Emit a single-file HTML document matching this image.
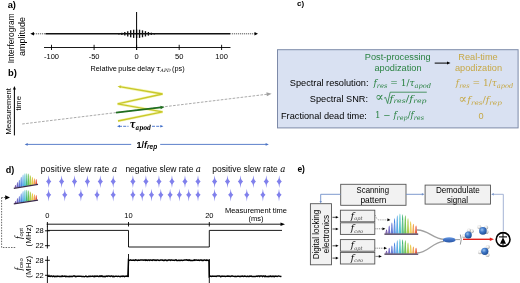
<!DOCTYPE html><html><head><meta charset="utf-8"><style>html,body{margin:0;padding:0;background:#fff;width:520px;height:283px;overflow:hidden;}svg{display:block;}</style></head><body><svg width="520" height="283" viewBox="0 0 520 283"><defs><radialGradient id="ograd" cx="0.38" cy="0.35" r="0.7"><stop offset="0" stop-color="#9cc4f0"/><stop offset="0.45" stop-color="#3f78c8"/><stop offset="1" stop-color="#1d4a90"/></radialGradient><radialGradient id="hgrad" cx="0.4" cy="0.35" r="0.7"><stop offset="0" stop-color="#ffffff"/><stop offset="0.55" stop-color="#e0e0e0"/><stop offset="1" stop-color="#8a8a8a"/></radialGradient><linearGradient id="cgrad" x1="0" y1="0" x2="0" y2="1"><stop offset="0" stop-color="#6a9ae0"/><stop offset="0.5" stop-color="#3d6fc4"/><stop offset="1" stop-color="#2a55a0"/></linearGradient></defs><rect width="520" height="283" fill="#fff"/><text x="7.7" y="8.4" font-size="9.3" font-weight="bold" font-family="Liberation Sans, Arial, sans-serif">a)</text>
<text transform="translate(13.8,38.3) rotate(-90)" text-anchor="middle" font-size="8.3" font-family="Liberation Sans, Arial, sans-serif">Interferogram</text>
<text transform="translate(24.6,36.5) rotate(-90)" text-anchor="middle" font-size="9" font-family="Liberation Sans, Arial, sans-serif">amplitude</text>
<line x1="32" y1="33.8" x2="45.5" y2="33.8" stroke="#555" stroke-width="1" stroke-dasharray="1.2,0.8"/>
<line x1="45.5" y1="33.8" x2="230" y2="33.8" stroke="#111" stroke-width="1.4"/>
<line x1="230" y1="33.8" x2="255" y2="33.8" stroke="#555" stroke-width="1" stroke-dasharray="1.2,0.8"/>
<path d="M30.3 33.8 L34 32.099999999999994 L34 35.5 Z" fill="#000"/>
<path d="M258 33.8 L254.5 32.099999999999994 L254.5 35.5 Z" fill="#000"/>
<line x1="118.90" y1="33.18" x2="118.90" y2="34.42" stroke="#111" stroke-width="1.35"/>
<line x1="121.85" y1="32.68" x2="121.85" y2="34.92" stroke="#111" stroke-width="1.35"/>
<line x1="124.80" y1="31.98" x2="124.80" y2="35.62" stroke="#111" stroke-width="1.35"/>
<line x1="127.75" y1="31.15" x2="127.75" y2="36.45" stroke="#111" stroke-width="1.35"/>
<line x1="130.70" y1="30.33" x2="130.70" y2="37.27" stroke="#111" stroke-width="1.35"/>
<line x1="133.65" y1="29.72" x2="133.65" y2="37.88" stroke="#111" stroke-width="1.35"/>
<line x1="136.60" y1="29.50" x2="136.60" y2="38.10" stroke="#111" stroke-width="1.35"/>
<line x1="139.55" y1="29.72" x2="139.55" y2="37.88" stroke="#111" stroke-width="1.35"/>
<line x1="142.50" y1="30.33" x2="142.50" y2="37.27" stroke="#111" stroke-width="1.35"/>
<line x1="145.45" y1="31.15" x2="145.45" y2="36.45" stroke="#111" stroke-width="1.35"/>
<line x1="148.40" y1="31.98" x2="148.40" y2="35.62" stroke="#111" stroke-width="1.35"/>
<line x1="151.35" y1="32.68" x2="151.35" y2="34.92" stroke="#111" stroke-width="1.35"/>
<line x1="154.30" y1="33.18" x2="154.30" y2="34.42" stroke="#111" stroke-width="1.35"/>
<line x1="136.6" y1="12" x2="136.6" y2="50" stroke="#000" stroke-width="1"/>
<line x1="44" y1="47.5" x2="230.5" y2="47.5" stroke="#000" stroke-width="0.9"/>
<line x1="51.5" y1="44.8" x2="51.5" y2="50" stroke="#000" stroke-width="0.9"/>
<text x="51.5" y="58.7" text-anchor="middle" font-size="7.5" font-family="Liberation Sans, Arial, sans-serif">-100</text>
<line x1="94.1" y1="44.8" x2="94.1" y2="50" stroke="#000" stroke-width="0.9"/>
<text x="94.1" y="58.7" text-anchor="middle" font-size="7.5" font-family="Liberation Sans, Arial, sans-serif">-50</text>
<line x1="136.6" y1="44.8" x2="136.6" y2="50" stroke="#000" stroke-width="0.9"/>
<text x="136.6" y="58.7" text-anchor="middle" font-size="7.5" font-family="Liberation Sans, Arial, sans-serif">0</text>
<line x1="179.2" y1="44.8" x2="179.2" y2="50" stroke="#000" stroke-width="0.9"/>
<text x="179.2" y="58.7" text-anchor="middle" font-size="7.5" font-family="Liberation Sans, Arial, sans-serif">50</text>
<line x1="221.6" y1="44.8" x2="221.6" y2="50" stroke="#000" stroke-width="0.9"/>
<text x="221.6" y="58.7" text-anchor="middle" font-size="7.5" font-family="Liberation Sans, Arial, sans-serif">100</text>
<text x="90.5" y="70.5" font-size="7.3" word-spacing="-0.6" font-family="Liberation Sans, Arial, sans-serif">Relative pulse delay <tspan font-family="DejaVu Serif, serif" font-style="italic" font-size="8.2">τ</tspan><tspan font-size="4.6" font-family="DejaVu Serif, serif" font-style="italic" dy="1">APD</tspan><tspan dy="-1"> (ps)</tspan></text>
<text x="8.1" y="76.3" font-size="9.4" font-weight="bold" font-family="Liberation Sans, Arial, sans-serif">b)</text>
<text transform="translate(11.4,111.3) rotate(-90)" text-anchor="middle" font-size="7.6" font-family="Liberation Sans, Arial, sans-serif">Measurement</text>
<text transform="translate(21.2,103.3) rotate(-90)" text-anchor="middle" font-size="7.6" font-family="Liberation Sans, Arial, sans-serif">time</text>
<line x1="14.4" y1="135.4" x2="14.4" y2="89" stroke="#000" stroke-width="1"/>
<path d="M14.40 86.00 L15.90 89.50 L12.90 89.50 Z" fill="#000"/>
<line x1="22.2" y1="124" x2="267.5" y2="94.2" stroke="#a0a0a0" stroke-width="0.9" stroke-dasharray="2.6,1.4"/>
<path d="M271.60 93.70 L266.88 96.29 L266.40 92.32 Z" fill="#a0a0a0"/>
<path d="M118 121 L162.6 111.8 L117.6 103.9 L162.6 94 L119.5 86.6" fill="none" stroke="#f2f29a" stroke-width="2.8" stroke-linejoin="miter" opacity="0.7"/>
<path d="M118 121 L162.6 111.8 L117.6 103.9 L162.6 94 L119.5 86.6" fill="none" stroke="#c8c82a" stroke-width="1.3" stroke-linejoin="miter"/>
<path d="M117.50 86.30 L121.20 85.41 L120.70 88.37 Z" fill="#c8c82a"/>
<line x1="116" y1="112.6" x2="161" y2="107.4" stroke="#1f6e1f" stroke-width="1.8"/>
<path d="M164.50 107.00 L160.72 109.15 L160.33 105.77 Z" fill="#1f6e1f"/>
<line x1="119" y1="126.3" x2="128.5" y2="126.3" stroke="#3d6cc8" stroke-width="0.9" stroke-dasharray="3,1.2"/>
<line x1="152" y1="126.3" x2="161" y2="126.3" stroke="#3d6cc8" stroke-width="0.9" stroke-dasharray="3,1.2"/>
<path d="M117.00 126.30 L120.00 125.00 L120.00 127.60 Z" fill="#3d6cc8"/>
<path d="M163.40 126.30 L160.40 127.60 L160.40 125.00 Z" fill="#3d6cc8"/>
<text x="129.8" y="128.4" font-size="10.5" font-style="italic" font-weight="bold" font-family="DejaVu Serif, serif" textLength="21.3" lengthAdjust="spacingAndGlyphs">τ<tspan font-size="7" dy="1.9">apod</tspan></text>
<line x1="27" y1="144.4" x2="131.2" y2="144.4" stroke="#4a72c4" stroke-width="0.9"/>
<path d="M24.70 144.40 L27.70 143.10 L27.70 145.70 Z" fill="#4a72c4"/>
<line x1="160.2" y1="144.4" x2="266" y2="144.4" stroke="#4a72c4" stroke-width="0.9"/>
<path d="M268.80 144.40 L265.60 145.80 L265.60 143.00 Z" fill="#4a72c4"/>
<text x="136.5" y="147.6" font-size="9" font-weight="bold" font-family="Liberation Sans, Arial, sans-serif">1/<tspan font-style="italic">f</tspan><tspan font-size="6.5" dy="1.6" font-style="italic">rep</tspan></text>
<text x="297" y="6.1" font-size="8" font-weight="bold" font-family="Liberation Sans, Arial, sans-serif">c)</text>
<rect x="277.5" y="49.7" width="240.6" height="78.2" fill="#d9e1f2" stroke="#7d8aa8" stroke-width="1"/>
<text x="397.8" y="60.3" text-anchor="middle" font-size="9.2" fill="#2a8242" font-family="Liberation Sans, Arial, sans-serif">Post-processing</text>
<text x="398" y="71" text-anchor="middle" font-size="9.2" fill="#2a8242" font-family="Liberation Sans, Arial, sans-serif">apodization</text>
<text x="478" y="60.3" text-anchor="middle" font-size="9.2" fill="#c6a846" font-family="Liberation Sans, Arial, sans-serif">Real-time</text>
<text x="478.5" y="71" text-anchor="middle" font-size="9.2" fill="#c6a846" font-family="Liberation Sans, Arial, sans-serif">apodization</text>
<line x1="434.7" y1="63.1" x2="447.5" y2="63.1" stroke="#000" stroke-width="1"/>
<path d="M450.50 63.10 L447.00 64.60 L447.00 61.60 Z" fill="#000"/>
<text x="368.5" y="85.8" text-anchor="end" font-size="9.2" font-family="Liberation Sans, Arial, sans-serif">Spectral resolution:</text>
<text x="368" y="101.5" text-anchor="end" font-size="9.2" font-family="Liberation Sans, Arial, sans-serif">Spectral SNR:</text>
<text x="366.8" y="118.5" text-anchor="end" font-size="9.2" font-family="Liberation Sans, Arial, sans-serif">Fractional dead time:</text>
<text x="373.5" y="86.2" font-size="8.8" fill="#2a8242" font-family="DejaVu Serif, serif" textLength="57.5" lengthAdjust="spacingAndGlyphs"><tspan font-style="italic">f</tspan><tspan font-style="italic" font-size="6.5" dy="1.6">res</tspan><tspan dy="-1.6"> = 1/</tspan><tspan font-style="italic">τ</tspan><tspan font-style="italic" font-size="6.5" dy="1.6">apod</tspan><tspan dy="-1.6"></tspan></text>
<text x="455.8" y="86.2" font-size="8.8" fill="#c6a846" font-family="DejaVu Serif, serif" textLength="57.5" lengthAdjust="spacingAndGlyphs"><tspan font-style="italic">f</tspan><tspan font-style="italic" font-size="6.5" dy="1.6">res</tspan><tspan dy="-1.6"> = 1/</tspan><tspan font-style="italic">τ</tspan><tspan font-style="italic" font-size="6.5" dy="1.6">apod</tspan><tspan dy="-1.6"></tspan></text>
<text x="375.2" y="100.6" font-size="12.5" fill="#2a8242" font-family="DejaVu Serif, serif">∝</text>
<path d="M384 98.2 L385.6 97.4 L387.6 103.5 L390.2 92.2 L426.8 92.2" fill="none" stroke="#2a8242" stroke-width="0.8"/>
<text x="389.5" y="101.8" font-size="8.8" fill="#2a8242" font-family="DejaVu Serif, serif" textLength="37" lengthAdjust="spacingAndGlyphs"><tspan font-style="italic">f</tspan><tspan font-style="italic" font-size="6.5" dy="1.6">res</tspan><tspan dy="-1.6">/</tspan><tspan font-style="italic">f</tspan><tspan font-style="italic" font-size="6.5" dy="1.6">rep</tspan><tspan dy="-1.6"></tspan></text>
<text x="458.5" y="102.8" font-size="12.5" fill="#c6a846" font-family="DejaVu Serif, serif">∝</text>
<text x="467.3" y="103" font-size="8.8" fill="#c6a846" font-family="DejaVu Serif, serif" textLength="34.5" lengthAdjust="spacingAndGlyphs"><tspan font-style="italic">f</tspan><tspan font-style="italic" font-size="6.5" dy="1.6">res</tspan><tspan dy="-1.6">/</tspan><tspan font-style="italic">f</tspan><tspan font-style="italic" font-size="6.5" dy="1.6">rep</tspan><tspan dy="-1.6"></tspan></text>
<text x="375" y="118.4" font-size="8.8" fill="#2a8242" font-family="DejaVu Serif, serif" textLength="49" lengthAdjust="spacingAndGlyphs">1 − <tspan font-style="italic">f</tspan><tspan font-style="italic" font-size="6.5" dy="1.6">rep</tspan><tspan dy="-1.6">/</tspan><tspan font-style="italic">f</tspan><tspan font-style="italic" font-size="6.5" dy="1.6">res</tspan><tspan dy="-1.6"></tspan></text>
<text x="481" y="118.5" text-anchor="middle" font-size="9.2" fill="#c6a846" font-family="Liberation Sans, Arial, sans-serif">0</text>
<text x="5.7" y="173.2" font-size="9" font-weight="bold" font-family="Liberation Sans, Arial, sans-serif">d)</text>
<path d="M14.60 187.64 C14.98 186.36 15.07 185.08 15.54 185.08 C16.01 185.08 16.11 186.36 16.48 187.64 Z" fill="#6a4a9e"/><line x1="15.40" y1="187.14" x2="15.40" y2="185.85" stroke="#fff" stroke-opacity="0.3" stroke-width="0.38"/><path d="M16.48 187.32 C16.86 184.70 16.95 182.07 17.43 182.07 C17.90 182.07 17.99 184.70 18.37 187.32 Z" fill="#6458c0"/><line x1="17.28" y1="186.82" x2="17.28" y2="183.65" stroke="#fff" stroke-opacity="0.3" stroke-width="0.38"/><path d="M18.37 187.00 C18.74 183.42 18.84 179.83 19.31 179.83 C19.78 179.83 19.87 183.42 20.25 187.00 Z" fill="#5068d0"/><line x1="19.17" y1="186.50" x2="19.17" y2="181.98" stroke="#fff" stroke-opacity="0.3" stroke-width="0.38"/><path d="M20.25 186.68 C20.63 181.75 20.72 176.82 21.19 176.82 C21.66 176.82 21.76 181.75 22.13 186.68 Z" fill="#4280e0"/><line x1="21.05" y1="186.18" x2="21.05" y2="179.78" stroke="#fff" stroke-opacity="0.3" stroke-width="0.38"/><path d="M22.13 186.36 C22.51 180.47 22.60 174.58 23.07 174.58 C23.55 174.58 23.64 180.47 24.02 186.36 Z" fill="#4aa2e4"/><line x1="22.93" y1="185.86" x2="22.93" y2="178.12" stroke="#fff" stroke-opacity="0.3" stroke-width="0.38"/><path d="M24.02 186.04 C24.39 179.64 24.49 173.24 24.96 173.24 C25.43 173.24 25.52 179.64 25.90 186.04 Z" fill="#40bcc8"/><line x1="24.82" y1="185.54" x2="24.82" y2="177.08" stroke="#fff" stroke-opacity="0.3" stroke-width="0.38"/><path d="M25.90 185.72 C26.28 179.51 26.37 173.30 26.84 173.30 C27.31 173.30 27.41 179.51 27.78 185.72 Z" fill="#38b070"/><line x1="26.70" y1="185.22" x2="26.70" y2="177.03" stroke="#fff" stroke-opacity="0.3" stroke-width="0.38"/><path d="M27.78 185.40 C28.16 179.51 28.25 173.62 28.73 173.62 C29.20 173.62 29.29 179.51 29.67 185.40 Z" fill="#5cbc40"/><line x1="28.58" y1="184.90" x2="28.58" y2="177.16" stroke="#fff" stroke-opacity="0.3" stroke-width="0.38"/><path d="M29.67 185.08 C30.04 180.15 30.14 175.22 30.61 175.22 C31.08 175.22 31.17 180.15 31.55 185.08 Z" fill="#a8c83c"/><line x1="30.47" y1="184.58" x2="30.47" y2="178.18" stroke="#fff" stroke-opacity="0.3" stroke-width="0.38"/><path d="M31.55 184.76 C31.93 180.79 32.02 176.82 32.49 176.82 C32.96 176.82 33.06 180.79 33.43 184.76 Z" fill="#e6c438"/><line x1="32.35" y1="184.26" x2="32.35" y2="179.20" stroke="#fff" stroke-opacity="0.3" stroke-width="0.38"/><path d="M33.43 184.44 C33.81 181.30 33.90 178.17 34.38 178.17 C34.85 178.17 34.94 181.30 35.32 184.44 Z" fill="#f29838"/><line x1="34.23" y1="183.94" x2="34.23" y2="180.05" stroke="#fff" stroke-opacity="0.3" stroke-width="0.38"/><path d="M35.32 184.12 C35.69 181.56 35.79 179.00 36.26 179.00 C36.73 179.00 36.82 181.56 37.20 184.12 Z" fill="#e04a30"/><line x1="36.12" y1="183.62" x2="36.12" y2="180.53" stroke="#fff" stroke-opacity="0.3" stroke-width="0.38"/><path d="M13.80 188.30 L38.00 184.46" stroke="#3a2a4a" stroke-width="1.3"/>
<path d="M14.60 203.24 C14.98 202.06 15.07 200.88 15.54 200.88 C16.01 200.88 16.11 202.06 16.48 203.24 Z" fill="#6a4a9e"/><line x1="15.40" y1="202.74" x2="15.40" y2="201.59" stroke="#fff" stroke-opacity="0.3" stroke-width="0.38"/><path d="M16.48 202.92 C16.86 200.50 16.95 198.08 17.43 198.08 C17.90 198.08 17.99 200.50 18.37 202.92 Z" fill="#6458c0"/><line x1="17.28" y1="202.42" x2="17.28" y2="199.53" stroke="#fff" stroke-opacity="0.3" stroke-width="0.38"/><path d="M18.37 202.60 C18.74 199.30 18.84 195.99 19.31 195.99 C19.78 195.99 19.87 199.30 20.25 202.60 Z" fill="#5068d0"/><line x1="19.17" y1="202.10" x2="19.17" y2="197.97" stroke="#fff" stroke-opacity="0.3" stroke-width="0.38"/><path d="M20.25 202.28 C20.63 197.74 20.72 193.19 21.19 193.19 C21.66 193.19 21.76 197.74 22.13 202.28 Z" fill="#4280e0"/><line x1="21.05" y1="201.78" x2="21.05" y2="195.92" stroke="#fff" stroke-opacity="0.3" stroke-width="0.38"/><path d="M22.13 201.96 C22.51 196.53 22.60 191.10 23.07 191.10 C23.55 191.10 23.64 196.53 24.02 201.96 Z" fill="#4aa2e4"/><line x1="22.93" y1="201.46" x2="22.93" y2="194.36" stroke="#fff" stroke-opacity="0.3" stroke-width="0.38"/><path d="M24.02 201.64 C24.39 195.74 24.49 189.84 24.96 189.84 C25.43 189.84 25.52 195.74 25.90 201.64 Z" fill="#40bcc8"/><line x1="24.82" y1="201.14" x2="24.82" y2="193.38" stroke="#fff" stroke-opacity="0.3" stroke-width="0.38"/><path d="M25.90 201.32 C26.28 195.60 26.37 189.87 26.84 189.87 C27.31 189.87 27.41 195.60 27.78 201.32 Z" fill="#38b070"/><line x1="26.70" y1="200.82" x2="26.70" y2="193.31" stroke="#fff" stroke-opacity="0.3" stroke-width="0.38"/><path d="M27.78 201.00 C28.16 195.57 28.25 190.14 28.73 190.14 C29.20 190.14 29.29 195.57 29.67 201.00 Z" fill="#5cbc40"/><line x1="28.58" y1="200.50" x2="28.58" y2="193.40" stroke="#fff" stroke-opacity="0.3" stroke-width="0.38"/><path d="M29.67 200.68 C30.04 196.14 30.14 191.59 30.61 191.59 C31.08 191.59 31.17 196.14 31.55 200.68 Z" fill="#a8c83c"/><line x1="30.47" y1="200.18" x2="30.47" y2="194.32" stroke="#fff" stroke-opacity="0.3" stroke-width="0.38"/><path d="M31.55 200.36 C31.93 196.70 32.02 193.04 32.49 193.04 C32.96 193.04 33.06 196.70 33.43 200.36 Z" fill="#e6c438"/><line x1="32.35" y1="199.86" x2="32.35" y2="195.24" stroke="#fff" stroke-opacity="0.3" stroke-width="0.38"/><path d="M33.43 200.04 C33.81 197.15 33.90 194.26 34.38 194.26 C34.85 194.26 34.94 197.15 35.32 200.04 Z" fill="#f29838"/><line x1="34.23" y1="199.54" x2="34.23" y2="195.99" stroke="#fff" stroke-opacity="0.3" stroke-width="0.38"/><path d="M35.32 199.72 C35.69 197.36 35.79 195.00 36.26 195.00 C36.73 195.00 36.82 197.36 37.20 199.72 Z" fill="#e04a30"/><line x1="36.12" y1="199.22" x2="36.12" y2="196.41" stroke="#fff" stroke-opacity="0.3" stroke-width="0.38"/><path d="M13.80 203.90 L38.00 200.06" stroke="#3a2a4a" stroke-width="1.3"/>
<path d="M1.6 197.5 L1.6 247.5 L15.5 247.5" fill="none" stroke="#444" stroke-width="0.8" stroke-dasharray="1.5,1.2"/>
<path d="M10 197.5 L5.2 195.2 L5.2 199.8 Z" fill="#000"/>
<line x1="1.6" y1="197.5" x2="5" y2="197.5" stroke="#444" stroke-width="0.8" stroke-dasharray="1.2,1"/>
<text x="40.7" y="171.7" font-size="8.5" font-family="Liberation Sans, Arial, sans-serif" textLength="76.5">positive slew rate <tspan font-style="italic" font-family="DejaVu Serif, serif" font-size="8.6">a</tspan></text>
<text x="125.4" y="171.7" font-size="8.5" font-family="Liberation Sans, Arial, sans-serif" textLength="75.4">negative slew rate <tspan font-style="italic" font-family="DejaVu Serif, serif" font-size="8.6">a</tspan></text>
<text x="212.2" y="171.7" font-size="8.5" font-family="Liberation Sans, Arial, sans-serif" textLength="73.2">positive slew rate <tspan font-style="italic" font-family="DejaVu Serif, serif" font-size="8.6">a</tspan></text>
<path d="M48.70 175.30 L49.20 178.60 Q49.60 180.20 51.30 181.40 Q49.60 182.80 49.20 184.40 L48.70 188.10 L48.20 184.40 Q47.80 182.80 46.10 181.40 Q47.80 180.20 48.20 178.60 Z" fill="#8080ec"/>
<path d="M61.60 175.30 L62.10 178.60 Q62.50 180.20 64.20 181.40 Q62.50 182.80 62.10 184.40 L61.60 188.10 L61.10 184.40 Q60.70 182.80 59.00 181.40 Q60.70 180.20 61.10 178.60 Z" fill="#8080ec"/>
<path d="M74.50 175.30 L75.00 178.60 Q75.40 180.20 77.10 181.40 Q75.40 182.80 75.00 184.40 L74.50 188.10 L74.00 184.40 Q73.60 182.80 71.90 181.40 Q73.60 180.20 74.00 178.60 Z" fill="#8080ec"/>
<path d="M87.40 175.30 L87.90 178.60 Q88.30 180.20 90.00 181.40 Q88.30 182.80 87.90 184.40 L87.40 188.10 L86.90 184.40 Q86.50 182.80 84.80 181.40 Q86.50 180.20 86.90 178.60 Z" fill="#8080ec"/>
<path d="M100.30 175.30 L100.80 178.60 Q101.20 180.20 102.90 181.40 Q101.20 182.80 100.80 184.40 L100.30 188.10 L99.80 184.40 Q99.40 182.80 97.70 181.40 Q99.40 180.20 99.80 178.60 Z" fill="#8080ec"/>
<path d="M113.20 175.30 L113.70 178.60 Q114.10 180.20 115.80 181.40 Q114.10 182.80 113.70 184.40 L113.20 188.10 L112.70 184.40 Q112.30 182.80 110.60 181.40 Q112.30 180.20 112.70 178.60 Z" fill="#8080ec"/>
<path d="M48.60 188.70 L49.10 192.00 Q49.50 193.60 51.20 194.80 Q49.50 196.20 49.10 197.80 L48.60 201.50 L48.10 197.80 Q47.70 196.20 46.00 194.80 Q47.70 193.60 48.10 192.00 Z" fill="#8080ec"/>
<path d="M64.75 188.70 L65.25 192.00 Q65.65 193.60 67.35 194.80 Q65.65 196.20 65.25 197.80 L64.75 201.50 L64.25 197.80 Q63.85 196.20 62.15 194.80 Q63.85 193.60 64.25 192.00 Z" fill="#8080ec"/>
<path d="M80.90 188.70 L81.40 192.00 Q81.80 193.60 83.50 194.80 Q81.80 196.20 81.40 197.80 L80.90 201.50 L80.40 197.80 Q80.00 196.20 78.30 194.80 Q80.00 193.60 80.40 192.00 Z" fill="#8080ec"/>
<path d="M97.05 188.70 L97.55 192.00 Q97.95 193.60 99.65 194.80 Q97.95 196.20 97.55 197.80 L97.05 201.50 L96.55 197.80 Q96.15 196.20 94.45 194.80 Q96.15 193.60 96.55 192.00 Z" fill="#8080ec"/>
<path d="M113.20 188.70 L113.70 192.00 Q114.10 193.60 115.80 194.80 Q114.10 196.20 113.70 197.80 L113.20 201.50 L112.70 197.80 Q112.30 196.20 110.60 194.80 Q112.30 193.60 112.70 192.00 Z" fill="#8080ec"/>
<path d="M132.90 175.30 L133.40 178.60 Q133.80 180.20 135.50 181.40 Q133.80 182.80 133.40 184.40 L132.90 188.10 L132.40 184.40 Q132.00 182.80 130.30 181.40 Q132.00 180.20 132.40 178.60 Z" fill="#8080ec"/>
<path d="M145.92 175.30 L146.42 178.60 Q146.82 180.20 148.52 181.40 Q146.82 182.80 146.42 184.40 L145.92 188.10 L145.42 184.40 Q145.02 182.80 143.32 181.40 Q145.02 180.20 145.42 178.60 Z" fill="#8080ec"/>
<path d="M158.94 175.30 L159.44 178.60 Q159.84 180.20 161.54 181.40 Q159.84 182.80 159.44 184.40 L158.94 188.10 L158.44 184.40 Q158.04 182.80 156.34 181.40 Q158.04 180.20 158.44 178.60 Z" fill="#8080ec"/>
<path d="M171.96 175.30 L172.46 178.60 Q172.86 180.20 174.56 181.40 Q172.86 182.80 172.46 184.40 L171.96 188.10 L171.46 184.40 Q171.06 182.80 169.36 181.40 Q171.06 180.20 171.46 178.60 Z" fill="#8080ec"/>
<path d="M184.98 175.30 L185.48 178.60 Q185.88 180.20 187.58 181.40 Q185.88 182.80 185.48 184.40 L184.98 188.10 L184.48 184.40 Q184.08 182.80 182.38 181.40 Q184.08 180.20 184.48 178.60 Z" fill="#8080ec"/>
<path d="M198.00 175.30 L198.50 178.60 Q198.90 180.20 200.60 181.40 Q198.90 182.80 198.50 184.40 L198.00 188.10 L197.50 184.40 Q197.10 182.80 195.40 181.40 Q197.10 180.20 197.50 178.60 Z" fill="#8080ec"/>
<path d="M132.90 188.70 L133.40 192.00 Q133.80 193.60 135.50 194.80 Q133.80 196.20 133.40 197.80 L132.90 201.50 L132.40 197.80 Q132.00 196.20 130.30 194.80 Q132.00 193.60 132.40 192.00 Z" fill="#8080ec"/>
<path d="M142.20 188.70 L142.70 192.00 Q143.10 193.60 144.80 194.80 Q143.10 196.20 142.70 197.80 L142.20 201.50 L141.70 197.80 Q141.30 196.20 139.60 194.80 Q141.30 193.60 141.70 192.00 Z" fill="#8080ec"/>
<path d="M151.50 188.70 L152.00 192.00 Q152.40 193.60 154.10 194.80 Q152.40 196.20 152.00 197.80 L151.50 201.50 L151.00 197.80 Q150.60 196.20 148.90 194.80 Q150.60 193.60 151.00 192.00 Z" fill="#8080ec"/>
<path d="M160.80 188.70 L161.30 192.00 Q161.70 193.60 163.40 194.80 Q161.70 196.20 161.30 197.80 L160.80 201.50 L160.30 197.80 Q159.90 196.20 158.20 194.80 Q159.90 193.60 160.30 192.00 Z" fill="#8080ec"/>
<path d="M170.10 188.70 L170.60 192.00 Q171.00 193.60 172.70 194.80 Q171.00 196.20 170.60 197.80 L170.10 201.50 L169.60 197.80 Q169.20 196.20 167.50 194.80 Q169.20 193.60 169.60 192.00 Z" fill="#8080ec"/>
<path d="M179.40 188.70 L179.90 192.00 Q180.30 193.60 182.00 194.80 Q180.30 196.20 179.90 197.80 L179.40 201.50 L178.90 197.80 Q178.50 196.20 176.80 194.80 Q178.50 193.60 178.90 192.00 Z" fill="#8080ec"/>
<path d="M188.70 188.70 L189.20 192.00 Q189.60 193.60 191.30 194.80 Q189.60 196.20 189.20 197.80 L188.70 201.50 L188.20 197.80 Q187.80 196.20 186.10 194.80 Q187.80 193.60 188.20 192.00 Z" fill="#8080ec"/>
<path d="M198.00 188.70 L198.50 192.00 Q198.90 193.60 200.60 194.80 Q198.90 196.20 198.50 197.80 L198.00 201.50 L197.50 197.80 Q197.10 196.20 195.40 194.80 Q197.10 193.60 197.50 192.00 Z" fill="#8080ec"/>
<path d="M214.60 175.30 L215.10 178.60 Q215.50 180.20 217.20 181.40 Q215.50 182.80 215.10 184.40 L214.60 188.10 L214.10 184.40 Q213.70 182.80 212.00 181.40 Q213.70 180.20 214.10 178.60 Z" fill="#8080ec"/>
<path d="M227.52 175.30 L228.02 178.60 Q228.42 180.20 230.12 181.40 Q228.42 182.80 228.02 184.40 L227.52 188.10 L227.02 184.40 Q226.62 182.80 224.92 181.40 Q226.62 180.20 227.02 178.60 Z" fill="#8080ec"/>
<path d="M240.44 175.30 L240.94 178.60 Q241.34 180.20 243.04 181.40 Q241.34 182.80 240.94 184.40 L240.44 188.10 L239.94 184.40 Q239.54 182.80 237.84 181.40 Q239.54 180.20 239.94 178.60 Z" fill="#8080ec"/>
<path d="M253.36 175.30 L253.86 178.60 Q254.26 180.20 255.96 181.40 Q254.26 182.80 253.86 184.40 L253.36 188.10 L252.86 184.40 Q252.46 182.80 250.76 181.40 Q252.46 180.20 252.86 178.60 Z" fill="#8080ec"/>
<path d="M266.28 175.30 L266.78 178.60 Q267.18 180.20 268.88 181.40 Q267.18 182.80 266.78 184.40 L266.28 188.10 L265.78 184.40 Q265.38 182.80 263.68 181.40 Q265.38 180.20 265.78 178.60 Z" fill="#8080ec"/>
<path d="M279.20 175.30 L279.70 178.60 Q280.10 180.20 281.80 181.40 Q280.10 182.80 279.70 184.40 L279.20 188.10 L278.70 184.40 Q278.30 182.80 276.60 181.40 Q278.30 180.20 278.70 178.60 Z" fill="#8080ec"/>
<path d="M214.60 188.70 L215.10 192.00 Q215.50 193.60 217.20 194.80 Q215.50 196.20 215.10 197.80 L214.60 201.50 L214.10 197.80 Q213.70 196.20 212.00 194.80 Q213.70 193.60 214.10 192.00 Z" fill="#8080ec"/>
<path d="M230.70 188.70 L231.20 192.00 Q231.60 193.60 233.30 194.80 Q231.60 196.20 231.20 197.80 L230.70 201.50 L230.20 197.80 Q229.80 196.20 228.10 194.80 Q229.80 193.60 230.20 192.00 Z" fill="#8080ec"/>
<path d="M246.80 188.70 L247.30 192.00 Q247.70 193.60 249.40 194.80 Q247.70 196.20 247.30 197.80 L246.80 201.50 L246.30 197.80 Q245.90 196.20 244.20 194.80 Q245.90 193.60 246.30 192.00 Z" fill="#8080ec"/>
<path d="M262.90 188.70 L263.40 192.00 Q263.80 193.60 265.50 194.80 Q263.80 196.20 263.40 197.80 L262.90 201.50 L262.40 197.80 Q262.00 196.20 260.30 194.80 Q262.00 193.60 262.40 192.00 Z" fill="#8080ec"/>
<path d="M279.00 188.70 L279.50 192.00 Q279.90 193.60 281.60 194.80 Q279.90 196.20 279.50 197.80 L279.00 201.50 L278.50 197.80 Q278.10 196.20 276.40 194.80 Q278.10 193.60 278.50 192.00 Z" fill="#8080ec"/>
<line x1="46.7" y1="224.2" x2="281" y2="224.2" stroke="#000" stroke-width="0.9"/>
<path d="M285.00 224.20 L280.50 226.00 L280.50 222.40 Z" fill="#000"/>
<line x1="47.4" y1="222" x2="47.4" y2="226.5" stroke="#000" stroke-width="0.9"/>
<text x="47.4" y="217.5" text-anchor="middle" font-size="7.5" font-family="Liberation Sans, Arial, sans-serif">0</text>
<line x1="128.5" y1="222" x2="128.5" y2="226.5" stroke="#000" stroke-width="0.9"/>
<text x="128.5" y="217.5" text-anchor="middle" font-size="7.5" font-family="Liberation Sans, Arial, sans-serif">10</text>
<line x1="209.3" y1="222" x2="209.3" y2="226.5" stroke="#000" stroke-width="0.9"/>
<text x="209.3" y="217.5" text-anchor="middle" font-size="7.5" font-family="Liberation Sans, Arial, sans-serif">20</text>
<text x="256" y="213.3" text-anchor="middle" font-size="7.5" font-family="Liberation Sans, Arial, sans-serif">Measurement time</text>
<text x="256" y="221" text-anchor="middle" font-size="7.5" font-family="Liberation Sans, Arial, sans-serif">(ms)</text>
<line x1="47.4" y1="226" x2="47.4" y2="248.5" stroke="#000" stroke-width="0.9"/>
<line x1="47.4" y1="256.2" x2="47.4" y2="283" stroke="#000" stroke-width="0.9"/>
<line x1="45" y1="230.8" x2="49.8" y2="230.8" stroke="#000" stroke-width="0.9"/>
<text x="43.8" y="233.4" text-anchor="end" font-size="7.5" font-family="Liberation Sans, Arial, sans-serif">28</text>
<line x1="45" y1="245.7" x2="49.8" y2="245.7" stroke="#000" stroke-width="0.9"/>
<text x="43.8" y="248.29999999999998" text-anchor="end" font-size="7.5" font-family="Liberation Sans, Arial, sans-serif">22</text>
<line x1="45" y1="260.3" x2="49.8" y2="260.3" stroke="#000" stroke-width="0.9"/>
<text x="43.8" y="262.90000000000003" text-anchor="end" font-size="7.5" font-family="Liberation Sans, Arial, sans-serif">28</text>
<line x1="45" y1="275.3" x2="49.8" y2="275.3" stroke="#000" stroke-width="0.9"/>
<text x="43.8" y="277.90000000000003" text-anchor="end" font-size="7.5" font-family="Liberation Sans, Arial, sans-serif">22</text>
<path d="M47.4 230.4 L128.5 230.4 L128.5 247 L209.3 247 L209.3 230.4 L282 230.4" fill="none" stroke="#000" stroke-width="0.9"/>
<path d="M47.4 276.12 L48.1 276.33 L48.8 276.21 L49.5 276.37 L50.2 276.39 L50.9 276.00 L51.6 275.96 L52.3 276.54 L53.0 276.13 L53.7 276.11 L54.4 276.65 L55.1 276.28 L55.8 276.54 L56.5 276.28 L57.2 276.40 L57.9 276.06 L58.6 276.39 L59.3 276.56 L60.0 276.32 L60.7 276.47 L61.4 276.42 L62.1 275.99 L62.8 276.48 L63.5 276.36 L64.2 276.16 L64.9 275.97 L65.6 276.56 L66.3 276.28 L67.0 276.45 L67.7 276.57 L68.4 276.45 L69.1 276.59 L69.8 276.23 L70.5 276.51 L71.2 276.26 L71.9 276.60 L72.6 276.57 L73.3 276.02 L74.0 276.05 L74.7 276.10 L75.4 276.63 L76.1 276.26 L76.8 276.39 L77.5 276.16 L78.2 276.31 L78.9 276.22 L79.6 276.20 L80.3 276.36 L81.0 276.36 L81.7 276.58 L82.4 276.43 L83.1 276.60 L83.8 276.55 L84.5 276.64 L85.2 276.42 L85.9 276.06 L86.6 276.55 L87.3 276.63 L88.0 276.58 L88.7 276.35 L89.4 276.45 L90.1 276.10 L90.8 276.53 L91.5 276.35 L92.2 276.15 L92.9 275.99 L93.6 276.55 L94.3 276.64 L95.0 276.01 L95.7 276.51 L96.4 276.24 L97.1 276.06 L97.8 276.16 L98.5 276.49 L99.2 276.56 L99.9 275.98 L100.6 276.38 L101.3 275.98 L102.0 276.45 L102.7 276.18 L103.4 276.57 L104.1 276.64 L104.8 276.30 L105.5 276.65 L106.2 276.17 L106.9 276.00 L107.6 276.37 L108.3 275.97 L109.0 276.09 L109.7 276.24 L110.4 276.38 L111.1 276.06 L111.8 275.98 L112.5 276.56 L113.2 276.17 L113.9 276.62 L114.6 276.58 L115.3 276.21 L116.0 276.27 L116.7 276.31 L117.4 276.40 L118.1 276.37 L118.8 276.34 L119.5 276.38 L120.2 276.61 L120.9 276.30 L121.6 276.25 L122.3 276.45 L123.0 276.12 L123.7 276.16 L124.4 276.63 L125.1 276.31 L125.8 276.33 L126.5 275.96 L127.2 276.24 L127.9 276.36 L128.5 259.86 L129.2 260.28 L129.9 260.29 L130.6 259.89 L131.3 260.29 L132.0 260.18 L132.7 260.33 L133.4 260.10 L134.1 260.34 L134.8 260.37 L135.5 259.87 L136.2 259.89 L136.9 260.32 L137.6 260.52 L138.3 260.03 L139.0 260.17 L139.7 260.26 L140.4 260.07 L141.1 260.10 L141.8 260.07 L142.5 260.11 L143.2 260.27 L143.9 260.06 L144.6 260.11 L145.3 260.39 L146.0 259.87 L146.7 260.25 L147.4 260.36 L148.1 260.07 L148.8 260.01 L149.5 260.41 L150.2 260.02 L150.9 259.98 L151.6 260.15 L152.3 260.34 L153.0 259.92 L153.7 260.08 L154.4 260.08 L155.1 260.43 L155.8 260.16 L156.5 260.45 L157.2 259.97 L157.9 260.09 L158.6 260.31 L159.3 260.47 L160.0 260.17 L160.7 260.01 L161.4 259.93 L162.1 260.22 L162.8 259.98 L163.5 260.41 L164.2 260.44 L164.9 259.98 L165.6 260.05 L166.3 260.42 L167.0 260.30 L167.7 260.41 L168.4 260.09 L169.1 259.94 L169.8 260.05 L170.5 260.41 L171.2 260.04 L171.9 260.09 L172.6 260.14 L173.3 260.14 L174.0 260.14 L174.7 260.49 L175.4 259.96 L176.1 259.85 L176.8 260.51 L177.5 260.47 L178.2 260.54 L178.9 260.15 L179.6 260.52 L180.3 260.50 L181.0 260.01 L181.7 260.37 L182.4 260.44 L183.1 260.31 L183.8 260.21 L184.5 260.05 L185.2 260.09 L185.9 260.01 L186.6 259.90 L187.3 260.26 L188.0 260.05 L188.7 260.42 L189.4 259.88 L190.1 260.48 L190.8 260.34 L191.5 260.50 L192.2 260.48 L192.9 260.48 L193.6 260.25 L194.3 259.86 L195.0 260.37 L195.7 259.97 L196.4 260.06 L197.1 260.31 L197.8 260.22 L198.5 260.14 L199.2 260.51 L199.9 260.28 L200.6 260.09 L201.3 260.03 L202.0 260.45 L202.7 260.18 L203.4 260.40 L204.1 260.10 L204.8 259.99 L205.5 260.22 L206.2 260.42 L206.9 259.97 L207.6 260.40 L208.3 260.50 L209.0 260.41 L209.3 276.53 L210.0 275.96 L210.7 276.39 L211.4 276.55 L212.1 275.98 L212.8 276.14 L213.5 276.14 L214.2 276.32 L214.9 276.25 L215.6 276.28 L216.3 276.49 L217.0 275.95 L217.7 275.99 L218.4 276.04 L219.1 276.04 L219.8 276.00 L220.5 276.63 L221.2 276.55 L221.9 276.01 L222.6 276.30 L223.3 276.17 L224.0 276.17 L224.7 276.20 L225.4 276.40 L226.1 276.36 L226.8 276.20 L227.5 276.08 L228.2 276.18 L228.9 276.04 L229.6 276.34 L230.3 276.45 L231.0 276.22 L231.7 276.01 L232.4 276.07 L233.1 276.21 L233.8 276.37 L234.5 276.50 L235.2 276.22 L235.9 276.51 L236.6 276.39 L237.3 276.25 L238.0 276.21 L238.7 276.30 L239.4 276.44 L240.1 276.24 L240.8 276.44 L241.5 276.27 L242.2 276.12 L242.9 276.33 L243.6 276.44 L244.3 276.00 L245.0 276.25 L245.7 276.25 L246.4 276.57 L247.1 276.61 L247.8 276.21 L248.5 276.58 L249.2 276.50 L249.9 276.13 L250.6 276.27 L251.3 276.04 L252.0 276.52 L252.7 276.41 L253.4 276.57 L254.1 276.50 L254.8 276.42 L255.5 276.46 L256.2 276.34 L256.9 276.02 L257.6 276.36 L258.3 275.95 L259.0 276.05 L259.7 276.49 L260.4 275.98 L261.1 276.01 L261.8 276.02 L262.5 276.57 L263.2 276.08 L263.9 275.97 L264.6 276.54 L265.3 276.03 L266.0 276.54 L266.7 276.42 L267.4 276.54 L268.1 276.62 L268.8 276.36 L269.5 276.51 L270.2 275.98 L270.9 276.49 L271.6 276.31 L272.3 276.45 L273.0 276.02 L273.7 276.47 L274.4 276.60 L275.1 275.99 L275.8 276.18 L276.5 276.34 L277.2 276.53 L277.9 276.12 L278.6 276.08 L279.3 276.12 L280.0 276.38 L280.7 276.48 L281.4 276.23" fill="none" stroke="#000" stroke-width="1.5"/>
<line x1="128.5" y1="254" x2="128.5" y2="277" stroke="#000" stroke-width="0.9"/>
<line x1="209.3" y1="259" x2="209.3" y2="283" stroke="#000" stroke-width="0.9"/>
<text transform="translate(22.2,233.6) rotate(-90)" text-anchor="middle" font-size="9.5" font-family="Liberation Serif, DejaVu Serif, serif"><tspan font-style="italic">f</tspan><tspan font-size="6" dy="1.2" font-family="Liberation Sans, sans-serif">opt</tspan></text>
<text transform="translate(31.3,235.5) rotate(-90)" text-anchor="middle" font-size="8" font-family="Liberation Sans, Arial, sans-serif">(MHz)</text>
<text transform="translate(22.2,264.4) rotate(-90)" text-anchor="middle" font-size="9.5" font-family="Liberation Serif, DejaVu Serif, serif"><tspan font-style="italic">f</tspan><tspan font-size="6" dy="1.2" font-family="Liberation Sans, sans-serif">ceo</tspan></text>
<text transform="translate(31.3,266.8) rotate(-90)" text-anchor="middle" font-size="8" font-family="Liberation Sans, Arial, sans-serif">(MHz)</text>
<text x="297.4" y="172.2" font-size="8.5" font-weight="bold" font-family="Liberation Sans, Arial, sans-serif">e)</text>
<rect x="340.7" y="184.3" width="65.3" height="21" fill="#f2f2f2" stroke="#555" stroke-width="0.9"/>
<text x="372.8" y="193.2" text-anchor="middle" font-size="8.4" textLength="32.4" lengthAdjust="spacingAndGlyphs" font-family="Liberation Sans, Arial, sans-serif">Scanning</text>
<text x="373.5" y="203.2" text-anchor="middle" font-size="8.4" textLength="26.1" lengthAdjust="spacingAndGlyphs" font-family="Liberation Sans, Arial, sans-serif">pattern</text>
<rect x="425.1" y="185.1" width="65.4" height="19" fill="#f2f2f2" stroke="#555" stroke-width="0.9"/>
<text x="457.8" y="192.6" text-anchor="middle" font-size="8.4" textLength="43.8" lengthAdjust="spacingAndGlyphs" font-family="Liberation Sans, Arial, sans-serif">Demodulate</text>
<text x="457.5" y="202.6" text-anchor="middle" font-size="8.4" textLength="21" lengthAdjust="spacingAndGlyphs" font-family="Liberation Sans, Arial, sans-serif">signal</text>
<rect x="310.4" y="203.7" width="21.1" height="61.1" fill="#f2f2f2" stroke="#555" stroke-width="0.9"/>
<text transform="translate(319.4,234.6) rotate(-90)" text-anchor="middle" font-size="8.6" textLength="49.4" lengthAdjust="spacingAndGlyphs" font-family="Liberation Sans, Arial, sans-serif">Digital locking</text>
<text transform="translate(329,234.1) rotate(-90)" text-anchor="middle" font-size="8.6" textLength="38.3" lengthAdjust="spacingAndGlyphs" font-family="Liberation Sans, Arial, sans-serif">electronics</text>
<rect x="340.4" y="210.2" width="34.4" height="11.6" fill="#f2f2f2" stroke="#555" stroke-width="0.9"/>
<rect x="340.4" y="222.8" width="34.4" height="11.6" fill="#f2f2f2" stroke="#555" stroke-width="0.9"/>
<rect x="340.4" y="239.6" width="34.4" height="11.6" fill="#f2f2f2" stroke="#555" stroke-width="0.9"/>
<rect x="340.4" y="252.4" width="34.4" height="11.6" fill="#f2f2f2" stroke="#555" stroke-width="0.9"/>
<text x="350.8" y="218.79999999999998" font-size="9" font-family="DejaVu Serif, serif"><tspan font-style="italic">f</tspan><tspan font-style="italic" font-size="5" dy="1.3" dx="0.2" fill="#444">opt</tspan></text>
<text x="350.8" y="231.4" font-size="9" font-family="DejaVu Serif, serif"><tspan font-style="italic">f</tspan><tspan font-style="italic" font-size="5" dy="1.3" dx="0.2" fill="#444">ceo</tspan></text>
<text x="350.8" y="248.2" font-size="9" font-family="DejaVu Serif, serif"><tspan font-style="italic">f</tspan><tspan font-style="italic" font-size="5" dy="1.3" dx="0.2" fill="#444">opt</tspan></text>
<text x="350.8" y="261.0" font-size="9" font-family="DejaVu Serif, serif"><tspan font-style="italic">f</tspan><tspan font-style="italic" font-size="5" dy="1.3" dx="0.2" fill="#444">ceo</tspan></text>
<line x1="332.5" y1="217.3" x2="336" y2="217.3" stroke="#000" stroke-width="0.7"/>
<path d="M338.60 217.30 L335.80 218.60 L335.80 216.00 Z" fill="#000"/>
<line x1="332.5" y1="229" x2="336" y2="229" stroke="#000" stroke-width="0.7"/>
<path d="M338.60 229.00 L335.80 230.30 L335.80 227.70 Z" fill="#000"/>
<line x1="332.5" y1="245.8" x2="336" y2="245.8" stroke="#000" stroke-width="0.7"/>
<path d="M338.60 245.80 L335.80 247.10 L335.80 244.50 Z" fill="#000"/>
<line x1="332.5" y1="258.1" x2="336" y2="258.1" stroke="#000" stroke-width="0.7"/>
<path d="M338.60 258.10 L335.80 259.40 L335.80 256.80 Z" fill="#000"/>
<path d="M340.7 194.3 L320.7 194.3 L320.7 201" fill="none" stroke="#6f8fc8" stroke-width="0.9"/>
<path d="M320.70 203.60 L319.50 201.00 L321.90 201.00 Z" fill="#6f8fc8"/>
<line x1="406" y1="194.3" x2="422" y2="194.3" stroke="#6f8fc8" stroke-width="0.9"/>
<path d="M424.50 194.30 L421.90 195.50 L421.90 193.10 Z" fill="#6f8fc8"/>
<path d="M503.3 231 L503.3 194.3 L494 194.3" fill="none" stroke="#9aaad0" stroke-width="0.9"/>
<path d="M491.20 194.30 L493.80 193.10 L493.80 195.50 Z" fill="#6f8fc8"/>
<path d="M385.39 233.60 C385.85 231.60 385.96 229.60 386.54 229.60 C387.12 229.60 387.23 231.60 387.70 233.60 Z" fill="#6a4a9e"/><line x1="386.37" y1="233.10" x2="386.37" y2="230.80" stroke="#fff" stroke-opacity="0.4" stroke-width="0.54"/><path d="M388.07 233.60 C388.53 229.50 388.65 225.40 389.22 225.40 C389.80 225.40 389.92 229.50 390.38 233.60 Z" fill="#6458c0"/><line x1="389.05" y1="233.10" x2="389.05" y2="227.86" stroke="#fff" stroke-opacity="0.4" stroke-width="0.54"/><path d="M390.75 233.60 C391.22 228.00 391.33 222.40 391.91 222.40 C392.49 222.40 392.60 228.00 393.06 233.60 Z" fill="#5068d0"/><line x1="391.74" y1="233.10" x2="391.74" y2="225.76" stroke="#fff" stroke-opacity="0.4" stroke-width="0.54"/><path d="M393.44 233.60 C393.90 225.90 394.01 218.20 394.59 218.20 C395.17 218.20 395.28 225.90 395.75 233.60 Z" fill="#4280e0"/><line x1="394.42" y1="233.10" x2="394.42" y2="222.82" stroke="#fff" stroke-opacity="0.4" stroke-width="0.54"/><path d="M396.12 233.60 C396.58 224.40 396.70 215.20 397.27 215.20 C397.85 215.20 397.97 224.40 398.43 233.60 Z" fill="#4aa2e4"/><line x1="397.10" y1="233.10" x2="397.10" y2="220.72" stroke="#fff" stroke-opacity="0.4" stroke-width="0.54"/><path d="M398.80 233.60 C399.27 223.60 399.38 213.60 399.96 213.60 C400.54 213.60 400.65 223.60 401.11 233.60 Z" fill="#40bcc8"/><line x1="399.79" y1="233.10" x2="399.79" y2="219.60" stroke="#fff" stroke-opacity="0.4" stroke-width="0.54"/><path d="M401.49 233.60 C401.95 223.90 402.06 214.20 402.64 214.20 C403.22 214.20 403.33 223.90 403.80 233.60 Z" fill="#38b070"/><line x1="402.47" y1="233.10" x2="402.47" y2="220.02" stroke="#fff" stroke-opacity="0.4" stroke-width="0.54"/><path d="M404.17 233.60 C404.63 224.40 404.75 215.20 405.32 215.20 C405.90 215.20 406.02 224.40 406.48 233.60 Z" fill="#5cbc40"/><line x1="405.15" y1="233.10" x2="405.15" y2="220.72" stroke="#fff" stroke-opacity="0.4" stroke-width="0.54"/><path d="M406.85 233.60 C407.32 225.90 407.43 218.20 408.01 218.20 C408.59 218.20 408.70 225.90 409.16 233.60 Z" fill="#a8c83c"/><line x1="407.84" y1="233.10" x2="407.84" y2="222.82" stroke="#fff" stroke-opacity="0.4" stroke-width="0.54"/><path d="M409.54 233.60 C410.00 227.40 410.11 221.20 410.69 221.20 C411.27 221.20 411.38 227.40 411.85 233.60 Z" fill="#e6c438"/><line x1="410.52" y1="233.10" x2="410.52" y2="224.92" stroke="#fff" stroke-opacity="0.4" stroke-width="0.54"/><path d="M412.22 233.60 C412.68 228.70 412.80 223.80 413.37 223.80 C413.95 223.80 414.07 228.70 414.53 233.60 Z" fill="#f29838"/><line x1="413.20" y1="233.10" x2="413.20" y2="226.74" stroke="#fff" stroke-opacity="0.4" stroke-width="0.54"/><path d="M414.90 233.60 C415.37 229.60 415.48 225.60 416.06 225.60 C416.64 225.60 416.75 229.60 417.21 233.60 Z" fill="#e04a30"/><line x1="415.89" y1="233.10" x2="415.89" y2="228.00" stroke="#fff" stroke-opacity="0.4" stroke-width="0.54"/><path d="M384.40 234.10 L418.20 234.10" stroke="#3a2a4a" stroke-width="1.3"/>
<path d="M385.39 253.60 C385.85 252.15 385.96 250.70 386.54 250.70 C387.12 250.70 387.23 252.15 387.70 253.60 Z" fill="#6a4a9e"/><line x1="386.37" y1="253.10" x2="386.37" y2="251.57" stroke="#fff" stroke-opacity="0.4" stroke-width="0.54"/><path d="M388.07 253.60 C388.53 250.63 388.65 247.66 389.22 247.66 C389.80 247.66 389.92 250.63 390.38 253.60 Z" fill="#6458c0"/><line x1="389.05" y1="253.10" x2="389.05" y2="249.44" stroke="#fff" stroke-opacity="0.4" stroke-width="0.54"/><path d="M390.75 253.60 C391.22 249.54 391.33 245.48 391.91 245.48 C392.49 245.48 392.60 249.54 393.06 253.60 Z" fill="#5068d0"/><line x1="391.74" y1="253.10" x2="391.74" y2="247.92" stroke="#fff" stroke-opacity="0.4" stroke-width="0.54"/><path d="M393.44 253.60 C393.90 248.02 394.01 242.44 394.59 242.44 C395.17 242.44 395.28 248.02 395.75 253.60 Z" fill="#4280e0"/><line x1="394.42" y1="253.10" x2="394.42" y2="245.78" stroke="#fff" stroke-opacity="0.4" stroke-width="0.54"/><path d="M396.12 253.60 C396.58 246.93 396.70 240.26 397.27 240.26 C397.85 240.26 397.97 246.93 398.43 253.60 Z" fill="#4aa2e4"/><line x1="397.10" y1="253.10" x2="397.10" y2="244.26" stroke="#fff" stroke-opacity="0.4" stroke-width="0.54"/><path d="M398.80 253.60 C399.27 246.35 399.38 239.10 399.96 239.10 C400.54 239.10 400.65 246.35 401.11 253.60 Z" fill="#40bcc8"/><line x1="399.79" y1="253.10" x2="399.79" y2="243.45" stroke="#fff" stroke-opacity="0.4" stroke-width="0.54"/><path d="M401.49 253.60 C401.95 246.57 402.06 239.53 402.64 239.53 C403.22 239.53 403.33 246.57 403.80 253.60 Z" fill="#38b070"/><line x1="402.47" y1="253.10" x2="402.47" y2="243.75" stroke="#fff" stroke-opacity="0.4" stroke-width="0.54"/><path d="M404.17 253.60 C404.63 246.93 404.75 240.26 405.32 240.26 C405.90 240.26 406.02 246.93 406.48 253.60 Z" fill="#5cbc40"/><line x1="405.15" y1="253.10" x2="405.15" y2="244.26" stroke="#fff" stroke-opacity="0.4" stroke-width="0.54"/><path d="M406.85 253.60 C407.32 248.02 407.43 242.44 408.01 242.44 C408.59 242.44 408.70 248.02 409.16 253.60 Z" fill="#a8c83c"/><line x1="407.84" y1="253.10" x2="407.84" y2="245.78" stroke="#fff" stroke-opacity="0.4" stroke-width="0.54"/><path d="M409.54 253.60 C410.00 249.10 410.11 244.61 410.69 244.61 C411.27 244.61 411.38 249.10 411.85 253.60 Z" fill="#e6c438"/><line x1="410.52" y1="253.10" x2="410.52" y2="247.31" stroke="#fff" stroke-opacity="0.4" stroke-width="0.54"/><path d="M412.22 253.60 C412.68 250.05 412.80 246.50 413.37 246.50 C413.95 246.50 414.07 250.05 414.53 253.60 Z" fill="#f29838"/><line x1="413.20" y1="253.10" x2="413.20" y2="248.63" stroke="#fff" stroke-opacity="0.4" stroke-width="0.54"/><path d="M414.90 253.60 C415.37 250.70 415.48 247.80 416.06 247.80 C416.64 247.80 416.75 250.70 417.21 253.60 Z" fill="#e04a30"/><line x1="415.89" y1="253.10" x2="415.89" y2="249.54" stroke="#fff" stroke-opacity="0.4" stroke-width="0.54"/><path d="M384.40 254.10 L418.20 254.10" stroke="#3a2a4a" stroke-width="1.3"/>
<path d="M375.4 215 Q376.5 219.8 379 219.9 L387.5 219.9" fill="none" stroke="#666" stroke-width="0.6" stroke-dasharray="1,0.8"/>
<path d="M390.40 219.90 L387.33 221.15 L387.47 218.35 Z" fill="#000"/>
<line x1="375.4" y1="228.8" x2="382.5" y2="228.8" stroke="#333" stroke-width="0.6" stroke-dasharray="1,0.8"/>
<path d="M385.40 228.80 L382.40 230.20 L382.40 227.40 Z" fill="#000"/>
<line x1="375.4" y1="248.2" x2="384" y2="248.2" stroke="#333" stroke-width="0.6" stroke-dasharray="1,0.8"/>
<path d="M387.00 248.20 L384.00 249.60 L384.00 246.80 Z" fill="#000"/>
<line x1="375.4" y1="256.4" x2="379" y2="256.4" stroke="#333" stroke-width="0.6"/>
<path d="M381.80 256.40 L378.80 257.80 L378.80 255.00 Z" fill="#000"/>
<path d="M417 230 C 428 229.5, 433 239, 444 239.4" fill="none" stroke="#a0a0a0" stroke-width="1.3"/>
<path d="M417 253 C 428 253, 432 242, 444 241.3" fill="none" stroke="#a0a0a0" stroke-width="1.3"/>
<ellipse cx="449.2" cy="239.9" rx="6.4" ry="2.7" fill="url(#cgrad)"/>
<line x1="455" y1="239.6" x2="460" y2="239.6" stroke="#a0a0a0" stroke-width="1"/>
<path d="M460.3 234.5 Q462.2 239.5 460.3 244.6" fill="none" stroke="#999" stroke-width="1"/>
<line x1="463" y1="239.3" x2="490" y2="239.3" stroke="#e0201c" stroke-width="1.4"/>
<path d="M494.00 239.30 L489.80 241.00 L489.80 237.60 Z" fill="#e0201c"/>
<circle cx="471.70" cy="231.30" r="2.0" fill="url(#hgrad)"/><circle cx="463.90" cy="235.90" r="2.0" fill="url(#hgrad)"/><circle cx="468.90" cy="230.50" r="2.0" fill="url(#hgrad)"/><circle cx="468.3" cy="234.9" r="3.5" fill="url(#ograd)"/>
<circle cx="479.30" cy="227.00" r="2.0" fill="url(#hgrad)"/><circle cx="486.50" cy="231.90" r="2.0" fill="url(#hgrad)"/><circle cx="486.10" cy="227.50" r="2.0" fill="url(#hgrad)"/><circle cx="482.9" cy="230.9" r="3.8" fill="url(#ograd)"/>
<circle cx="487.70" cy="247.00" r="2.0" fill="url(#hgrad)"/><circle cx="480.00" cy="252.20" r="2.0" fill="url(#hgrad)"/><circle cx="487.50" cy="255.10" r="2.0" fill="url(#hgrad)"/><circle cx="484.8" cy="251.3" r="3.6" fill="url(#ograd)"/>
<circle cx="503.1" cy="239.5" r="6.9" fill="#fff" stroke="#000" stroke-width="1.6"/>
<line x1="503" y1="232.6" x2="503" y2="237.5" stroke="#000" stroke-width="1"/>
<line x1="499" y1="236.9" x2="507" y2="236.9" stroke="#000" stroke-width="1.1"/>
<path d="M503 237.2 L506 243.8 L500 243.8 Z" fill="#000"/>
<line x1="503" y1="243.5" x2="503" y2="246.4" stroke="#000" stroke-width="1"/></svg></body></html>
